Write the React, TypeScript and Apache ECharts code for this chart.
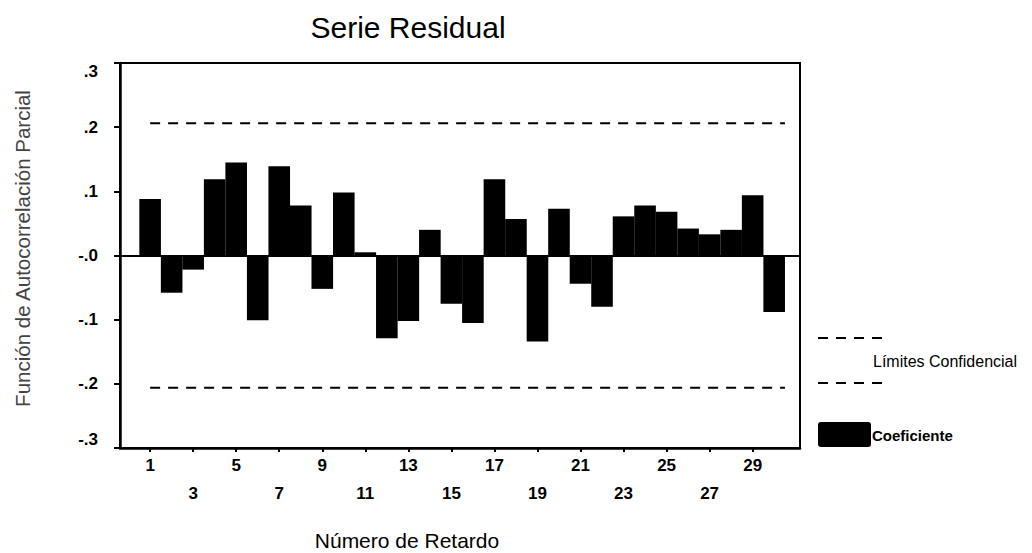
import React, { useEffect, useRef } from "react";
import * as echarts from "echarts";

const lags = [1, 2, 3, 4, 5, 6, 7, 8, 9, 10, 11, 12, 13, 14, 15, 16, 17, 18, 19, 20, 21, 22, 23, 24, 25, 26, 27, 28, 29, 30];
const pacf = [
  0.088, -0.058, -0.022, 0.119, 0.145, -0.101, 0.139, 0.078, -0.052, 0.098,
  0.005, -0.129, -0.102, 0.04, -0.075, -0.105, 0.119, 0.057, -0.134, 0.073,
  -0.044, -0.08, 0.061, 0.078, 0.068, 0.042, 0.033, 0.04, 0.094, -0.088,
];
const confLimit = 0.206;
const xTickLags = [1, 3, 5, 7, 9, 11, 13, 15, 17, 19, 21, 23, 25, 27, 29];
const yTickLabels = ["-.3", "-.2", "-.1", "-.0", ".1", ".2", ".3"];

const FONT = "'Liberation Sans', Arial, Helvetica, sans-serif";

export default function App() {
  const ref = useRef<HTMLDivElement>(null);

  useEffect(() => {
    if (!ref.current) return;
    const chart = echarts.init(ref.current, undefined, { renderer: "svg" });
    const first = lags[0];
    const last = lags[lags.length - 1] + 0.5;
    const option: any = {
      animation: false,
      backgroundColor: "#ffffff",
      textStyle: { fontFamily: FONT },
      title: {
        text: "Serie Residual",
        left: 403,
        textAlign: "center",
        top: 7,
        textStyle: { fontFamily: FONT, fontSize: 30, fontWeight: "normal", color: "#000" },
      },
      grid: {
        left: 120,
        right: 232,
        top: 63,
        bottom: 105,
        show: true,
        borderColor: "#000",
        borderWidth: 2,
        backgroundColor: "transparent",
        outerBoundsMode: "none",
      },
      xAxis: {
        type: "value",
        min: -0.4,
        max: 31.2,
        name: "Número de Retardo",
        nameLocation: "middle",
        nameGap: 82,
        nameTextStyle: {
          fontFamily: FONT,
          fontSize: 21,
          color: "#000",
          padding: [0, 106, 0, 0],
        },
        axisLine: { show: true, onZero: false, lineStyle: { color: "#000", width: 2.5 } },
        axisTick: {
          show: true,
          customValues: xTickLags,
          length: 4,
          lineStyle: { color: "#000", width: 2 },
        },
        axisLabel: {
          show: true,
          customValues: xTickLags,
          margin: 3,
          lineHeight: 28,
          fontFamily: FONT,
          fontSize: 17,
          fontWeight: "bold",
          color: "#000",
          formatter: (v: number) => {
            const idx = xTickLags.indexOf(Math.round(v));
            return idx % 2 === 1 ? "\n" + Math.round(v) : String(Math.round(v));
          },
        },
        splitLine: { show: false },
      },
      yAxis: {
        type: "value",
        min: -0.3,
        max: 0.3,
        interval: 0.1,
        name: "Función de Autocorrelación Parcial",
        nameLocation: "middle",
        nameGap: 87,
        nameTextStyle: {
          fontFamily: FONT,
          fontSize: 20.5,
          color: "#444",
          padding: [0, 0, 0, 14],
        },
        axisLine: { show: true, onZero: false, lineStyle: { color: "#000", width: 2.5 } },
        axisTick: { show: true, length: 6, lineStyle: { color: "#000", width: 2 } },
        axisLabel: {
          margin: 22,
          fontFamily: FONT,
          fontSize: 17,
          fontWeight: "bold",
          color: "#000",
          verticalAlignMaxLabel: "top",
          verticalAlignMinLabel: "bottom",
          formatter: (v: number) => yTickLabels[Math.round(v * 10) + 3],
        },
        splitLine: { show: false },
      },
      series: [
        {
          name: "Coeficiente",
          type: "bar",
          barWidth: 21.6,
          itemStyle: { color: "#000" },
          data: lags.map((l, i) => [l, pacf[i]]),
          markLine: {
            silent: true,
            symbol: ["none", "none"],
            label: { show: false },
            lineStyle: { color: "#000", width: 2, type: "solid" },
            data: [{ yAxis: 0 }],
          },
        },
        {
          name: "Límites Confidencial",
          type: "line",
          symbol: "none",
          lineStyle: { color: "#000", width: 2, type: [10, 8] },
          data: [
            [first, confLimit],
            [last, confLimit],
          ],
        },
        {
          name: "Límites Confidencial",
          type: "line",
          symbol: "none",
          lineStyle: { color: "#000", width: 2, type: [10, 8] },
          data: [
            [first, -confLimit],
            [last, -confLimit],
          ],
        },
      ],
      graphic: [
        {
          type: "line",
          shape: { x1: 818, y1: 338, x2: 886, y2: 338 },
          style: { stroke: "#000", lineWidth: 2, lineDash: [10, 8] },
        },
        {
          type: "text",
          x: 873,
          y: 361,
          style: {
            text: "Límites Confidencial",
            fontFamily: FONT,
            fontSize: 16,
            fill: "#000",
            verticalAlign: "middle",
          },
        },
        {
          type: "line",
          shape: { x1: 818, y1: 383, x2: 886, y2: 383 },
          style: { stroke: "#000", lineWidth: 2, lineDash: [10, 8] },
        },
        {
          type: "rect",
          shape: { x: 818, y: 422, width: 53, height: 25, r: 3 },
          style: { fill: "#000" },
        },
        {
          type: "text",
          x: 872,
          y: 435,
          style: {
            text: "Coeficiente",
            fontFamily: FONT,
            fontSize: 15,
            fontWeight: "bold",
            fill: "#000",
            verticalAlign: "middle",
          },
        },
      ],
    };
    chart.setOption(option);
    return () => chart.dispose();
  }, []);

  return (
    <div
      ref={ref}
      style={{ position: "fixed", left: 0, top: 0, width: 1032, height: 553, background: "#fff" }}
    />
  );
}
